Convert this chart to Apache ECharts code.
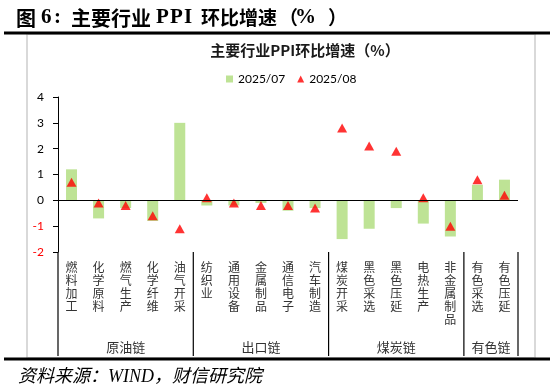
<!DOCTYPE html>
<html>
<head>
<meta charset="utf-8">
<script src="https://cdn.jsdelivr.net/npm/echarts@6/dist/echarts.min.js"></script>
<style>
html,body{margin:0;padding:0;background:#fff;}
#c{width:550px;height:392px;}
</style>
</head>
<body>
<div id="c"></div>
<script>
const categories = ['燃料加工','化学原料','燃气生产','化学纤维','油气开采','纺织业','通用设备','金属制品','通信电子','汽车制造','煤炭开采','黑色采选','黑色压延','电热生产','非金属制品','有色采选','有色压延'];
const jul = [1.2,-0.7,-0.3,-0.8,3.0,-0.2,-0.2,-0.1,-0.4,-0.3,-1.5,-1.1,-0.3,-0.9,-1.4,0.6,0.8];
const aug = [0.7,-0.1,-0.2,-0.6,-1.1,0.1,-0.1,-0.2,-0.2,-0.3,2.8,2.1,1.9,0.1,-1.0,0.8,0.2];
const groups = ['原油链','出口链','煤炭链','有色链'];
const groupSizes = [5,5,5,2];
const yTicks = [-2,-1,0,1,2,3,4];
const seriesNames = ['2025/07','2025/08'];
const innerTitle = '主要行业PPI环比增速（%）';
const source = '资料来源：WIND，财信研究院';

const cjk = "'Noto Sans CJK SC', sans-serif";
const num = "Lato, 'Noto Sans CJK SC', sans-serif";

const chart = echarts.init(document.getElementById('c'), null, {renderer:'canvas'});
const option = {
  animation:false,
  backgroundColor:'#fff',
  title:{
    text: innerTitle, left: 300, top: 38, textAlign:'center',
    textStyle:{fontFamily:cjk, fontSize:15, fontWeight:'bold', color:'#1a1a1a'}
  },
  legend:{
    left: 221, top: 68, itemWidth:7, itemHeight:7, itemGap:12,
    textStyle:{fontFamily:num, fontSize:12, color:'#000'},
    data:[{name:seriesNames[0], icon:'rect'},{name:seriesNames[1], icon:'triangle'}]
  },
  grid:{left:58, right:32, top:97, bottom:140, containLabel:false},
  xAxis:{
    type:'category', data:categories,
    axisLine:{show:false, onZero:false},
    axisTick:{show:false},
    axisLabel:{
      interval:0, margin:9, fontFamily:cjk, fontSize:12, lineHeight:13, color:'#333',
      verticalAlign:'top',
      formatter: v => v.split('').join('\n')
    }
  },
  yAxis:{
    type:'value', min:yTicks[0], max:yTicks[yTicks.length-1], interval:1,
    splitLine:{show:false},
    axisLine:{show:true, lineStyle:{color:'#000', width:1}},
    axisTick:{show:true, length:5, lineStyle:{color:'#000'}},
    axisLabel:{margin:14, fontFamily:num, fontSize:12,
      color: v => (Number(v) < 0 ? '#FF0000' : '#000')}
  },
  series:[
    {
      name:seriesNames[0], type:'bar', data:jul, barWidth:11,
      itemStyle:{color:'#BEE395'},
      markLine:{
        silent:true, symbol:['none','none'], label:{show:false},
        lineStyle:{color:'#000', width:1.2, type:'solid'},
        data:[{yAxis:0}]
      },
      z:2
    },
    {
      name:seriesNames[1], type:'scatter', data:aug, symbol:'triangle', symbolSize:[10,9],
      itemStyle:{color:'#FF0000'}, z:3
    }
  ]
};
chart.setOption(option);

const px = i => chart.convertToPixel({xAxisIndex:0}, categories[i]);
const band = px(1) - px(0);
const yBot = chart.convertToPixel({yAxisIndex:0}, yTicks[0]);
const lineEnd = 356;
const graphics = [];
// frame
graphics.push({type:'rect', shape:{x:27, y:34, width:508, height:324}, style:{fill:null, stroke:'#d9d9d9', lineWidth:2}, silent:true, z:0});
// top / bottom thick rules
graphics.push({type:'line', shape:{x1:4, y1:33, x2:550, y2:33}, style:{stroke:'#000', lineWidth:3}, z:10});
graphics.push({type:'line', shape:{x1:4, y1:359, x2:550, y2:359}, style:{stroke:'#000', lineWidth:3}, z:10});
// outer title, pieced together
const tCJK = "bold 20px 'Noto Sans CJK SC', sans-serif";
const tCJK2 = "bold 19px 'Noto Sans CJK SC', sans-serif";
const tLat = "bold 21px 'Liberation Serif', serif";
const titleParts = [
  ['图', 16, tCJK], ['6', 41, tLat], [':', 54, tLat], ['主要行业', 71, tCJK],
  ['P', 156, tLat], ['P', 170, tLat], ['I', 184, tLat], ['环比增速', 201, tCJK2],
  ['（', 279, tCJK2], ['%', 295, tLat], ['）', 328, tCJK2]
];
titleParts.forEach(p => graphics.push({type:'text', x:p[1], y:18, style:{text:p[0], font:p[2], fill:'#000', verticalAlign:'middle'}, z:10}));
// source
graphics.push({type:'text', x:18, y:377, style:{text:source, font:"italic 18px 'Liberation Serif', 'Noto Sans CJK SC', serif", fill:'#000', verticalAlign:'middle'}, z:10});
// axis extension and group separators
const leftB = px(0) - band/2;
graphics.push({type:'line', shape:{x1:leftB, y1:yBot, x2:leftB, y2:lineEnd}, style:{stroke:'#000', lineWidth:1.2}, z:5});
let cum = 0;
groups.forEach((g, gi) => {
  const startIdx = cum;
  cum += groupSizes[gi];
  const rightB = px(cum-1) + band/2;
  const startB = px(startIdx) - band/2;
  graphics.push({type:'line', shape:{x1:rightB, y1:yBot, x2:rightB, y2:lineEnd}, style:{stroke:'#000', lineWidth:1.2}, z:5});
  graphics.push({type:'text', x:(startB+rightB)/2, y:347, style:{text:g, font:"13px 'Noto Sans CJK SC', sans-serif", fill:'#333', align:'center', verticalAlign:'middle'}, z:5});
});
chart.setOption({graphic:graphics});
</script>
</body>
</html>
